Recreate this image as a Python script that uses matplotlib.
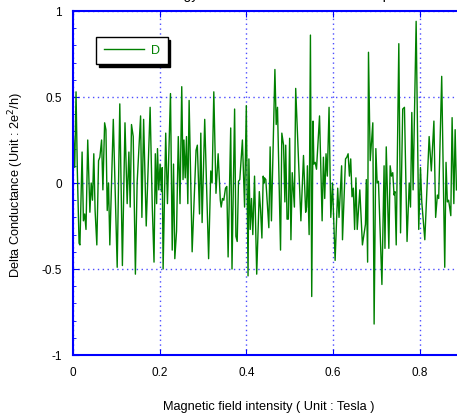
import numpy as np
import matplotlib
matplotlib.use("Agg")
import matplotlib.pyplot as plt
from matplotlib.ticker import MultipleLocator

plt.rcParams['font.family'] = ['Liberation Sans', 'DejaVu Sans']

# magnetic field (Tesla) and delta conductance (2e^2/h)
field = [
    0.001, 0.004, 0.007, 0.010, 0.014, 0.016, 0.021, 0.024, 0.027, 0.030,
    0.034, 0.039, 0.042, 0.045, 0.048, 0.051, 0.055, 0.059, 0.062, 0.066,
    0.069, 0.073, 0.076, 0.079, 0.082, 0.085, 0.093, 0.098, 0.102, 0.108,
    0.114, 0.120, 0.125, 0.129, 0.132, 0.135, 0.139, 0.144,
    0.148, 0.156, 0.159, 0.163, 0.169, 0.178, 0.183, 0.187, 0.190, 0.193,
    0.195, 0.198, 0.201, 0.204, 0.206, 0.208, 0.214, 0.218, 0.225, 0.229,
    0.232, 0.235, 0.239, 0.243, 0.247, 0.251, 0.254, 0.256, 0.259, 0.262,
    0.265, 0.268, 0.275, 0.284, 0.287,
    0.292, 0.295, 0.298, 0.304, 0.313, 0.318, 0.321, 0.325, 0.330, 0.335,
    0.340, 0.342, 0.345, 0.348, 0.352, 0.355, 0.358, 0.364, 0.367, 0.373,
    0.376, 0.379, 0.382, 0.385, 0.391, 0.396, 0.400, 0.404, 0.406, 0.409,
    0.412, 0.415, 0.419, 0.424, 0.430, 0.433, 0.436,
    0.439, 0.441, 0.442, 0.445, 0.452, 0.455, 0.458, 0.466, 0.469, 0.472,
    0.479, 0.482, 0.486, 0.489, 0.491, 0.494, 0.497, 0.500, 0.503, 0.506,
    0.511, 0.514, 0.526, 0.532, 0.537, 0.539, 0.541, 0.545, 0.548, 0.551,
    0.554, 0.556, 0.559, 0.562, 0.569, 0.575, 0.578, 0.581, 0.584,
    0.587, 0.591, 0.595, 0.599, 0.601, 0.605, 0.611, 0.614, 0.620, 0.622,
    0.629, 0.632, 0.635, 0.638, 0.641, 0.644, 0.647, 0.650, 0.653, 0.656,
    0.662, 0.668, 0.675, 0.677, 0.680, 0.682, 0.686, 0.692, 0.695, 0.699,
    0.702, 0.705, 0.713, 0.718, 0.720, 0.723, 0.729, 0.732,
    0.735, 0.738, 0.741, 0.743, 0.746, 0.752, 0.756, 0.761, 0.765, 0.771,
    0.776, 0.779, 0.782, 0.785, 0.792, 0.798, 0.802, 0.805, 0.812, 0.822,
    0.827, 0.833, 0.837, 0.841, 0.844, 0.851, 0.858, 0.861, 0.864, 0.867,
    0.872, 0.875, 0.879, 0.882, 0.885,
]
delta_g = [
    0.27, 0.09, 0.53, 0.07, -0.35, -0.36, 0.18, -0.22, -0.18, -0.27,
    0.25, -0.17, 0.00, -0.10, 0.17, -0.16, -0.36, 0.13, 0.15, 0.25,
    -0.04, 0.35, 0.31, -0.16, 0.00, -0.36, 0.37, -0.12, -0.49, 0.46,
    -0.48, 0.35, -0.12, 0.18, -0.14, 0.34, 0.27, -0.53,
    0.00, 0.39, -0.20, 0.37, -0.25, 0.44, -0.14, -0.46, 0.17, -0.12,
    0.20, -0.04, 0.11, -0.05, 0.09, -0.50, 0.29, -0.12, 0.52, -0.39,
    0.11, -0.44, -0.28, 0.27, -0.12, 0.56, 0.02, 0.25, 0.03, 0.27,
    -0.12, 0.48, -0.40, 0.19, 0.22,
    -0.18, 0.29, -0.23, 0.37, -0.44, 0.07, 0.00, 0.53, -0.06, 0.17,
    -0.10, -0.14, -0.09, -0.10, -0.03, -0.02, -0.43, 0.32, -0.50, 0.43,
    -0.31, -0.34, 0.01, 0.02, 0.25, -0.14, 0.45, -0.54, 0.14, -0.27,
    -0.09, -0.30, 0.04, -0.53, -0.05, -0.16, -0.32,
    0.04, 0.00, 0.03, 0.02, -0.26, 0.21, -0.22, 0.66, 0.34, 0.44,
    -0.39, 0.29, 0.22, -0.11, 0.22, -0.21, -0.21, 0.26, -0.33, 0.06,
    -0.14, 0.55, -0.22, 0.16, -0.17, -0.14, 0.10, -0.30, 0.86, -0.66,
    0.36, 0.11, 0.12, 0.08, 0.39, -0.22, 0.15, -0.09, 0.17,
    0.04, 0.44, -0.20, 0.00, -0.16, -0.45, -0.03, -0.20, 0.10, -0.33,
    0.14, 0.15, 0.17, 0.04, 0.14, -0.08, -0.03, -0.27, 0.03, -0.27,
    -0.04, -0.36, -0.24, 0.02, -0.46, 0.76, 0.13, 0.35, -0.82, 0.20,
    0.00, 0.01, -0.59, 0.10, -0.38, 0.21, -0.38, 0.10,
    0.04, 0.06, -0.07, -0.05, -0.36, 0.81, -0.29, 0.43, 0.44, -0.34,
    0.00, -0.14, 0.41, -0.04, 0.94, -0.27, 0.09, -0.11, -0.33, 0.27,
    0.07, 0.36, -0.20, -0.07, -0.09, 0.62, -0.49, 0.12, -0.11, -0.10,
    -0.19, 0.38, -0.12, 0.31, -0.04,
]

W, H = 457, 416
fig = plt.figure(figsize=(W / 100, H / 100), dpi=100)
# axes runs off the right edge of the picture, like the original
ax = fig.add_axes([73 / W, 61 / H, 398.6 / W, 344 / H])

ax.plot(field, delta_g, color='#008000', lw=1.0, label='D')

ax.set_xlim(0, 0.92)
ax.set_ylim(-1, 1)
ax.yaxis.set_minor_locator(MultipleLocator(0.1))
ax.set_xticks([0, 0.2, 0.4, 0.6, 0.8])
ax.set_xticklabels(['0', '0.2', '0.4', '0.6', '0.8'])
ax.set_yticks([-1, -0.5, 0, 0.5, 1])
ax.set_yticklabels(['-1', '-0.5', '0', '0.5', '1'])

ax.grid(True, which='major', color='blue', linestyle=(0, (1, 2.5)), lw=1.0, alpha=0.7)
for s in ax.spines.values():
    s.set_color('blue')
    s.set_linewidth(1.5)
ax.tick_params(which='both', direction='in', colors='blue', top=True, right=False,
               labelcolor='black', labelsize=8.5)
ax.tick_params(axis='x', which='major', length=4, pad=9)
ax.tick_params(axis='y', which='major', length=4, pad=8)
ax.tick_params(axis='y', which='minor', length=2)

ax.set_xlabel('Magnetic field intensity ( Unit : Tesla )', fontsize=9.2)
ax.xaxis.set_label_coords((269 - 73) / 398.6, -46 / 344)
fig.text(16 / W, 0.555, 'Delta Conductance (Unit : 2e$^2$/h)', rotation=90,
         ha='center', va='center', fontsize=9.2)

# title sits above the top edge of the picture, only the descenders show
fig.text(154 / W, 1 + 0.5 / H, 'Energy = 0.50 : Conductance of Sample',
         ha='left', va='baseline', fontsize=10)

leg = ax.legend(loc='upper left', bbox_to_anchor=(96 / W, 1 - 37 / H),
                bbox_transform=fig.transFigure, borderaxespad=0, fontsize=9,
                frameon=True, fancybox=False, shadow={'color': 'black', 'alpha': 1},
                handlelength=3.2, handletextpad=0.6, borderpad=0.6)
leg.get_frame().set_edgecolor('black')
leg.get_frame().set_linewidth(1.0)
for t in leg.get_texts():
    t.set_color('#008000')

fig.savefig('out.png', dpi=100)
